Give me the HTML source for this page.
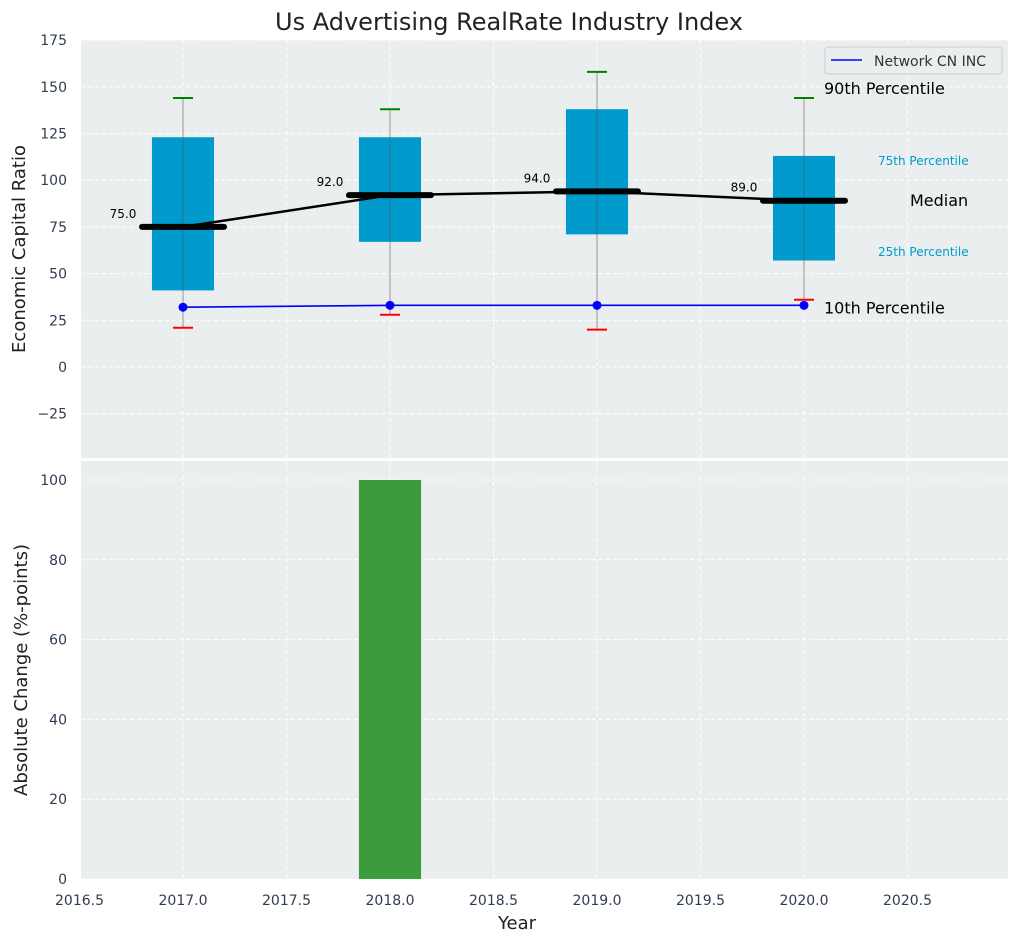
<!DOCTYPE html>
<html><head><meta charset="utf-8"><style>
body{margin:0;background:#fff;font-family:"DejaVu Sans","Liberation Sans",sans-serif}
svg text{font-family:"DejaVu Sans","Liberation Sans",sans-serif}
</style></head><body>
<svg id="c" width="1019" height="942" xmlns="http://www.w3.org/2000/svg"></svg>
<script>
const years=[2017,2018,2019,2020];
const p10=[21,28,20,36];
const q1=[41,67,71,57];
const med=[75,92,94,89];
const q3=[123,123,138,113];
const p90=[144,138,158,144];
const company=[32,33,33,33];
const changeYears=[2018];
const changeVals=[100];
const topTicks=[-25,0,25,50,75,100,125,150,175];
const botTicks=[0,20,40,60,80,100];
const xTicks=[2016.5,2017,2017.5,2018,2018.5,2019,2019.5,2020,2020.5];

const svg=document.getElementById('c');
const NS='http://www.w3.org/2000/svg';
function mk(t,a,p){const e=document.createElementNS(NS,t);for(const k in a)e.setAttribute(k,a[k]);(p||svg).appendChild(e);return e;}
const L=81,R=1008;
const X=v=>79.5+(v-2016.5)*207;
const T0=40,T1=458;const YT=v=>367-v*46.7/25;
const B0=461,B1=879;const YB=v=>879-v*3.99;

let e;
e=mk('rect',{x:L,y:T0,width:R-L,height:T1-T0,fill:'#eaeeef'});

e=mk('rect',{x:L,y:B0,width:R-L,height:B1-B0,fill:'#eaeeef'});


xTicks.forEach(v=>{
 [[T0,T1],[B0,B1]].forEach(r=>{e=mk('line',{x1:X(v),x2:X(v),y1:r[0],y2:r[1],stroke:'#fff','stroke-dasharray':'4,3'});
 });
 e=mk('text',{x:X(v),y:905,'text-anchor':'middle','font-size':14,fill:'#2e3e50'});e.textContent=v.toFixed(1);
 
});
topTicks.forEach(v=>{
 e=mk('line',{x1:L,x2:R,y1:YT(v),y2:YT(v),stroke:'#fff','stroke-dasharray':'4,3'});
 
 e=mk('text',{x:67,y:YT(v)+5,'text-anchor':'end','font-size':14,fill:'#2e3e50'});e.textContent=v<0?'\u2212'+(-v):v;
 
});
botTicks.forEach(v=>{
 e=mk('line',{x1:L,x2:R,y1:YB(v),y2:YB(v),stroke:'#fff','stroke-dasharray':'4,3'});
 
 e=mk('text',{x:67,y:YB(v)+5,'text-anchor':'end','font-size':14,fill:'#2e3e50'});e.textContent=v;
 
});

years.forEach((y,i)=>{
 const x=X(y),w=0.3*207;
 e=mk('rect',{x:x-w/2,y:YT(q3[i]),width:w,height:YT(q1[i])-YT(q3[i]),fill:'#009acd'});
 
 e=mk('line',{x1:x,x2:x,y1:YT(p90[i]),y2:YT(p10[i]),stroke:'#555','stroke-opacity':0.6,"stroke-width":1});
 
 e=mk('line',{x1:x-10,x2:x+10,y1:YT(p90[i]),y2:YT(p90[i]),stroke:'green','stroke-width':2});
 
 e=mk('line',{x1:x-10,x2:x+10,y1:YT(p10[i]),y2:YT(p10[i]),stroke:'red','stroke-width':2});
 
});
e=mk('polyline',{points:years.map((y,i)=>X(y)+','+YT(med[i])).join(' '),fill:'none',stroke:'#000','stroke-width':2.5});

years.forEach((y,i)=>{
 const x=X(y);
 e=mk('line',{x1:x-41,x2:x+41,y1:YT(med[i]),y2:YT(med[i]),stroke:'#000','stroke-width':6,'stroke-linecap':'round'});
 
 e=mk('text',{x:x-60,y:YT(med[i])-9,'text-anchor':'middle','font-size':12,fill:'#000'});e.textContent=med[i].toFixed(1);
 
});
e=mk('polyline',{points:years.map((y,i)=>X(y)+','+YT(company[i])).join(' '),fill:'none',stroke:'blue','stroke-width':1.6});

years.forEach((y,i)=>{e=mk('circle',{cx:X(y),cy:YT(company[i]),r:4.5,fill:'blue'});
 });

const lx=X(2020)+20;
[[lx,94,'90th Percentile',16,'#000','start','annotation-p90'],
 [lx,YT(company[3])+8,'10th Percentile',16,'#000','start','annotation-p10'],
 [878,165,'75th Percentile',12,'#009acd','start','annotation-q3'],
 [878,256,'25th Percentile',12,'#009acd','start','annotation-q1'],
 [910,206,'Median',16,'#000','start','annotation-median']].forEach(a=>{
 e=mk('text',{x:a[0],y:a[1],'font-size':a[3],fill:a[4],'text-anchor':a[5]});e.textContent=a[2];
 
});

const lg=mk('g',{});
mk('rect',{x:825,y:47,width:177,height:27,rx:3,fill:'#eaeeef',stroke:'#ccc'},lg);
mk('line',{x1:831,x2:862,y1:60,y2:60,stroke:'blue','stroke-width':1.6},lg);
e=mk('text',{x:874,y:66,'font-size':14,fill:'#333'},lg);e.textContent='Network CN INC';


changeYears.forEach((y,i)=>{
 const w=0.3*207;
 e=mk('rect',{x:X(y)-w/2,y:YB(changeVals[i]),width:w,height:YB(0)-YB(changeVals[i]),fill:'#3c9b3c'});
 
});

e=mk('line',{x1:L,x2:R,y1:459.5,y2:459.5,stroke:'#fff','stroke-width':2});


[[509,30,'Us Advertising RealRate Industry Index',24,'middle','chart-title',0],
 [517,929,'Year',18,'middle','x-axis-title',0]].forEach(a=>{
 e=mk('text',{x:a[0],y:a[1],'font-size':a[3],'text-anchor':a[4],fill:'#222'});e.textContent=a[2];
 });
e=mk('text',{x:25,y:249,'font-size':18,'text-anchor':'middle',fill:'#222',transform:'rotate(-90 25 249)'});e.textContent='Economic Capital Ratio';

e=mk('text',{x:27,y:670,'font-size':18,'text-anchor':'middle',fill:'#222',transform:'rotate(-90 27 670)'});e.textContent='Absolute Change (%-points)';

</script>
</body></html>
